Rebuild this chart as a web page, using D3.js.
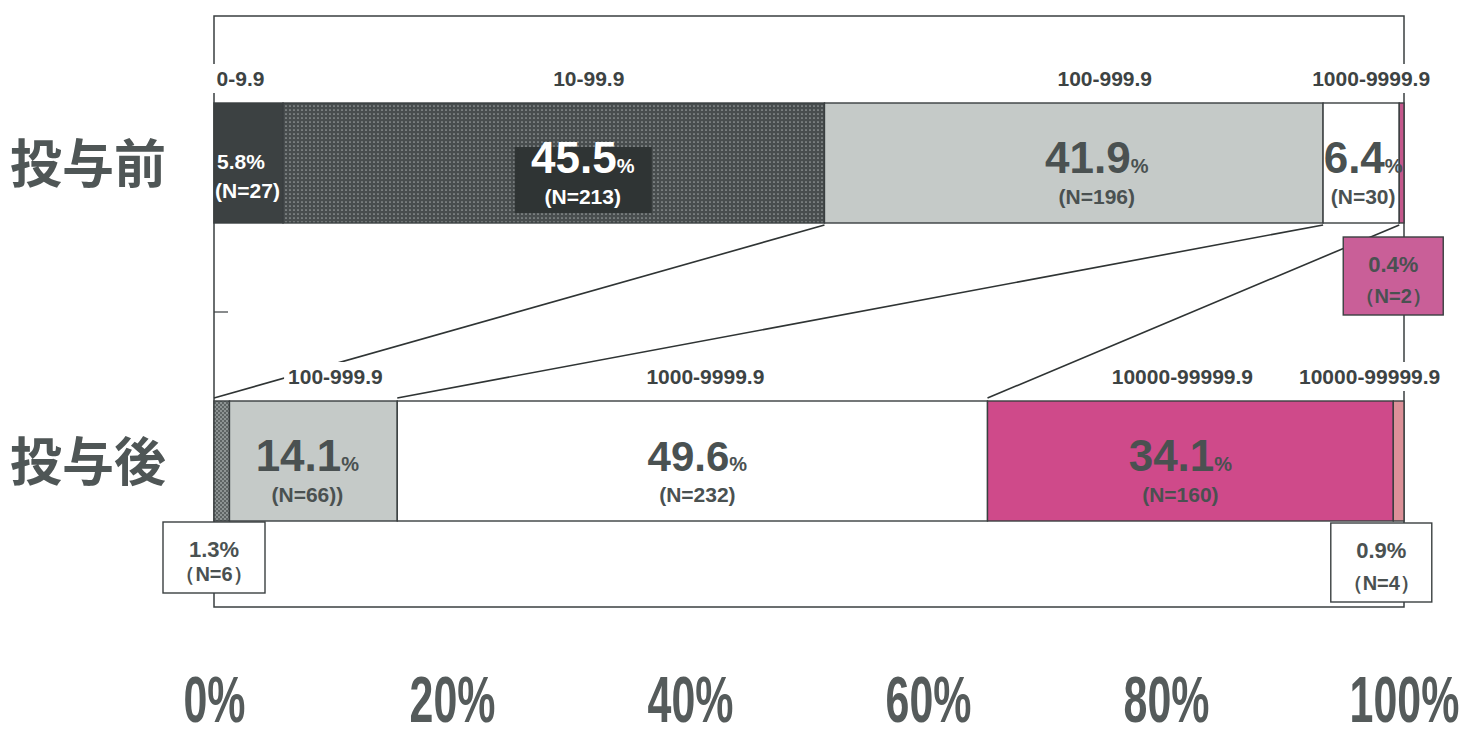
<!DOCTYPE html>
<html><head><meta charset="utf-8">
<script src="https://cdn.jsdelivr.net/npm/d3@7/dist/d3.min.js"></script>
<style>
html,body{margin:0;padding:0;background:#fff;}
svg{display:block;}
</style></head>
<body>
<svg id="chart" width="1472" height="738"></svg>
<script>
// ---- data ----
const categories = ["投与前", "投与後"];
const beforeRanges = ["0-9.9", "10-99.9", "100-999.9", "1000-9999.9", "10000-99999.9"];
const beforeValues = [5.8, 45.5, 41.9, 6.4, 0.4];
const beforeN = [27, 213, 196, 30, 2];
const afterRanges = ["10-99.9", "100-999.9", "1000-9999.9", "10000-99999.9", "10000-99999.9"];
const afterValues = [1.3, 14.1, 49.6, 34.1, 0.9];
const afterN = [6, 66, 232, 160, 4];
const tickValues = [0, 20, 40, 60, 80, 100];
const tickLabels = ["0%", "20%", "40%", "60%", "80%", "100%"];
// series lines: [cumulative % on 投与前, cumulative % on 投与後]
const seriesLinks = [[51.3, 0], [93.2, 15.4], [99.6, 65.0]];

// ---- layout / style ----
const svg = d3.select("#chart");
const x = d3.scaleLinear().domain([0, 100]).range([214, 1404]);
const y = d3.scalePoint().domain(categories).range([163, 461]);
const barH = 120;
const textDark = "#4a5151";
const lineCol = "#3a3f40";
const numFont = "'Liberation Sans', Arial, Helvetica, sans-serif";
const cjkFont = "'Noto Sans CJK JP', 'Noto Sans CJK SC', sans-serif";

const defs = svg.append("defs");
const dots = defs.append("pattern").attr("id", "dots").attr("patternUnits", "userSpaceOnUse")
  .attr("width", 4).attr("height", 4);
dots.append("rect").attr("width", 4).attr("height", 4).attr("fill", "#484d4e");
dots.append("circle").attr("cx", 2).attr("cy", 2).attr("r", 0.85).attr("fill", "#9da3a3");
const checks = defs.append("pattern").attr("id", "checks").attr("patternUnits", "userSpaceOnUse")
  .attr("width", 4).attr("height", 4);
checks.append("rect").attr("width", 4).attr("height", 4).attr("fill", "#8d9393");
checks.append("rect").attr("width", 2).attr("height", 2).attr("fill", "#5e6464");
checks.append("rect").attr("x", 2).attr("y", 2).attr("width", 2).attr("height", 2).attr("fill", "#5e6464");

const beforeFills = ["#3c4142", "url(#dots)", "#c5cac8", "#ffffff", "#c4588c"];
const afterFills = ["url(#checks)", "#c5cac8", "#ffffff", "#cf4a8a", "#dc9098"];

function stack(values) {
  let c = 0;
  return values.map(v => { const s = c; c += v; return [s, c]; });
}
const rows = [
  {cat: categories[0], ranges: beforeRanges, values: beforeValues, n: beforeN, fills: beforeFills},
  {cat: categories[1], ranges: afterRanges, values: afterValues, n: afterN, fills: afterFills}
];
rows.forEach(r => r.stack = stack(r.values));

// frame
svg.append("rect").attr("x", x(0)).attr("y", 16).attr("width", x(100) - x(0)).attr("height", 591)
  .attr("fill", "none").attr("stroke", lineCol).attr("stroke-width", 1.5);
svg.append("line").attr("x1", x(0)).attr("x2", x(0) + 14).attr("y1", 312).attr("y2", 312)
  .attr("stroke", lineCol).attr("stroke-width", 1.2);

// series lines
svg.selectAll("line.link").data(seriesLinks).join("line").attr("class", "link")
  .attr("x1", d => x(d[0])).attr("y1", y(categories[0]) + barH / 2 + 2)
  .attr("x2", d => x(d[1])).attr("y2", y(categories[1]) - barH / 2 - 3)
  .attr("stroke", "#2f3434").attr("stroke-width", 1.6);

// bars
rows.forEach(r => {
  svg.append("g").selectAll("rect").data(r.values).join("rect")
    .attr("x", (d, i) => x(r.stack[i][0]))
    .attr("width", (d, i) => x(r.stack[i][1]) - x(r.stack[i][0]))
    .attr("y", y(r.cat) - barH / 2).attr("height", barH)
    .attr("fill", (d, i) => r.fills[i])
    .attr("stroke", lineCol).attr("stroke-width", 1.4);
});

// range labels above bars (with white background covering frame)
const rangeLabelDx = [[-8, 35, 31, 10], [22, 13, -8, -29]];
const rangeLabelIdx = [[0, 1, 2, 3], [1, 2, 3, 4]];
rows.forEach((r, ri) => {
  rangeLabelIdx[ri].forEach((i, k) => {
    const cx = x((r.stack[i][0] + r.stack[i][1]) / 2) + rangeLabelDx[ri][k];
    const by = y(r.cat) - barH / 2 - 17;
    const g = svg.append("g");
    const t = g.append("text").attr("x", cx).attr("y", by).attr("text-anchor", "middle")
      .attr("font-family", numFont).attr("font-weight", "bold").attr("font-size", 21)
      .attr("fill", "#3d4343").text(r.ranges[i]);
    const bb = t.node().getBBox();
    g.insert("rect", "text").attr("x", bb.x - 4).attr("y", bb.y - 3).attr("width", bb.width + 8)
      .attr("height", bb.height + 6).attr("fill", "#fff");
  });
});

// big value labels inside bars
function bigLabel(cx, cat, value, n, color, numSize, bg) {
  const cy = y(cat);
  const g = svg.append("g");
  if (bg) {
    g.append("rect").attr("x", cx - 68).attr("y", cy - 16).attr("width", 137).attr("height", 66)
      .attr("fill", bg);
  }
  const t = g.append("text").attr("x", cx).attr("y", cy + 10).attr("text-anchor", "middle")
    .attr("font-family", numFont).attr("font-weight", "bold").attr("fill", color);
  t.append("tspan").attr("font-size", numSize).text(value.toFixed(1));
  t.append("tspan").attr("font-size", 20).text("%");
  g.append("text").attr("x", cx).attr("y", cy + 41).attr("text-anchor", "middle")
    .attr("font-family", numFont).attr("font-weight", "bold").attr("font-size", 21)
    .attr("fill", color).text("(N=" + n + ")" + (n === 66 ? ")" : ""));
}
function mid(r, i) { return x((r.stack[i][0] + r.stack[i][1]) / 2); }
const R0 = rows[0], R1 = rows[1];
// 投与前
{
  const cx = mid(R0, 0), cy = y(R0.cat);
  svg.append("text").attr("x", x(0) + 3).attr("y", cy + 6).attr("font-family", numFont)
    .attr("font-weight", "bold").attr("font-size", 21).attr("fill", "#fff")
    .text(R0.values[0].toFixed(1) + "%");
  svg.append("text").attr("x", cx - 1).attr("y", cy + 35).attr("text-anchor", "middle")
    .attr("font-family", numFont).attr("font-weight", "bold").attr("font-size", 21).attr("fill", "#fff")
    .text("(N=" + R0.n[0] + ")");
}
bigLabel(mid(R0, 1) + 29, R0.cat, R0.values[1], R0.n[1], "#ffffff", 44, "#2f3434");
bigLabel(mid(R0, 2) + 23, R0.cat, R0.values[2], R0.n[2], textDark, 44, null);
bigLabel(mid(R0, 3) + 2, R0.cat, R0.values[3], R0.n[3], textDark, 44, null);
// 投与後
bigLabel(mid(R1, 1) - 6, R1.cat, R1.values[1], R1.n[1], textDark, 44, null);
bigLabel(mid(R1, 2) + 5, R1.cat, R1.values[2], R1.n[2], textDark, 42, null);
bigLabel(mid(R1, 3) - 10, R1.cat, R1.values[3], R1.n[3], textDark, 44, null);

// callout boxes for tiny segments
function callout(cx, top, w, h, value, n, fill) {
  const g = svg.append("g");
  g.append("rect").attr("x", cx - w / 2).attr("y", top).attr("width", w).attr("height", h)
    .attr("fill", fill).attr("stroke", lineCol).attr("stroke-width", 1.4);
  g.append("text").attr("x", cx).attr("y", top + 35).attr("text-anchor", "middle")
    .attr("font-family", numFont).attr("font-weight", "bold").attr("font-size", 22)
    .attr("fill", textDark).text(value.toFixed(1) + "%");
  g.append("text").attr("x", cx).attr("y", top + h - 12).attr("text-anchor", "middle")
    .attr("font-family", numFont).attr("font-weight", "bold").attr("font-size", 20)
    .attr("fill", textDark).text("（N=" + n + "）");
}
callout(x(R0.stack[4][0]) - 6, y(R0.cat) + barH / 2 + 14, 100, 78, R0.values[4], R0.n[4], "#c95f98");
callout(x(R1.stack[0][0]), y(R1.cat) + barH / 2 + 1, 102, 71, R1.values[0], R1.n[0], "#ffffff");
callout(x(R1.stack[4][0]) - 12, y(R1.cat) + barH / 2 + 2, 101, 79, R1.values[4], R1.n[4], "#ffffff");

// category labels
svg.selectAll("text.cat").data(categories).join("text").attr("class", "cat")
  .attr("x", 88).attr("y", d => y(d) + 20).attr("text-anchor", "middle")
  .attr("font-family", cjkFont).attr("font-weight", "bold").attr("font-size", 52)
  .attr("fill", "#4f5656").text(d => d);

// x axis
const axis = d3.axisBottom(x).tickValues(tickValues)
  .tickFormat((d, i) => tickLabels[i]).tickSize(0).tickPadding(0);
const ax = svg.append("g").attr("transform", "translate(0,722)").call(axis);
ax.select(".domain").remove();
ax.selectAll("text").attr("y", 0).attr("dy", 0)
  .attr("font-family", numFont).attr("font-weight", "bold").attr("font-size", 58)
  .attr("fill", "#555b5b").attr("transform", "scale(0.74,1.12)");
</script>
</body></html>
